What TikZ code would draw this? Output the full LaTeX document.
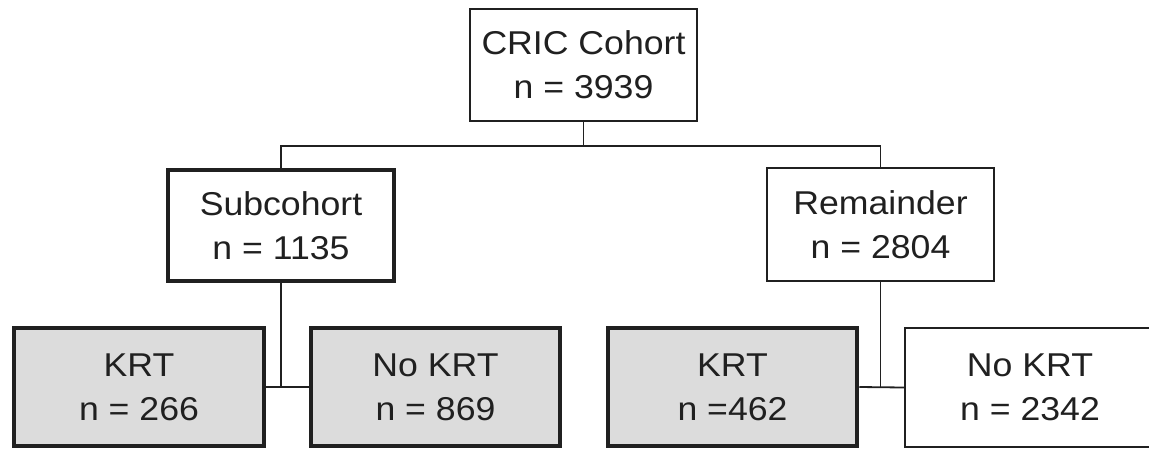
\documentclass[tikz,border=0pt]{standalone}
\usepackage{fontspec}
\setmainfont{Liberation Sans}[FakeStretch=1.08]
\definecolor{linec}{HTML}{202020}
\definecolor{boxfill}{HTML}{DCDCDC}
\begin{document}
\begin{tikzpicture}[x=1pt,y=-1pt,
  base/.style={draw=linec, align=center, inner sep=0pt, text=linec,
    font=\fontsize{33}{44}\selectfont},
  thinbox/.style={base, line width=1.8pt, fill=white},
  thickbox/.style={base, line width=4.5pt, fill=white},
  greybox/.style={base, line width=4.5pt, fill=boxfill},
  conn/.style={draw=linec, line width=1.8pt}]
\useasboundingbox (0,0) rectangle (1149,451);
\node[thinbox, minimum width=227pt, minimum height=112pt] (top) at (583.5,65) {CRIC Cohort\\n = 3939};
\node[thickbox, minimum width=226pt, minimum height=111pt] (sub) at (281,225.5) {Subcohort\\n = 1135};
\node[thinbox, minimum width=227pt, minimum height=113pt] (rem) at (880.5,224.5) {Remainder\\n = 2804};
\node[greybox, minimum width=250pt, minimum height=118pt] (krtL) at (139,387) {KRT\\n = 266};
\node[greybox, minimum width=249pt, minimum height=118pt] (nokL) at (435.5,387) {No KRT\\n = 869};
\node[greybox, minimum width=249pt, minimum height=118pt] (krtR) at (732.5,387) {KRT\\n =462};
\node[thinbox, minimum width=250pt, minimum height=119pt] (nokR) at (1030,387.5) {No KRT\\n = 2342};
\coordinate (j1) at (583.5,146);
\draw[conn] (top.south) -- (j1);
\draw[conn] (sub.north) |- (j1) -| (rem.north);
\draw[conn] (sub.south) -- (sub.south |- krtL.east);
\draw[conn] (krtL.east) -- (nokL.west);
\draw[conn] (rem.south) -- (rem.south |- krtR.east);
\draw[conn] (krtR.east) -- (nokR.west);
\end{tikzpicture}
\end{document}
